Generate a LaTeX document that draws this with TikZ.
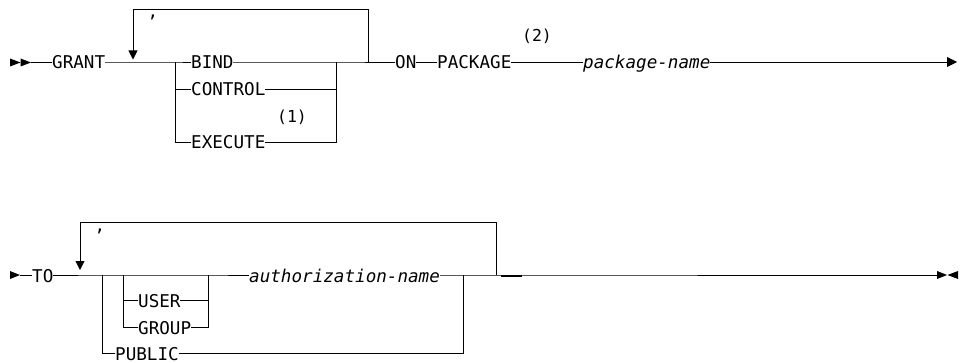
\documentclass[tikz,border=0pt]{standalone}
\usepackage{fontspec}
\newfontfamily\railfont{DejaVu Sans Mono}
\usepackage{tikz}
\usetikzlibrary{arrows.meta, calc, positioning}

\tikzset{
    rail/.style={line width=0.9pt, line cap=rect},
    kw/.style={anchor=west, inner sep=0pt, text height=14pt, text depth=0pt,
        font=\railfont\fontsize{17.6}{20}\selectfont},
    var/.style={kw, font=\railfont\itshape\fontsize{17.6}{20}\selectfont},
    sepmark/.style={kw, anchor=base},
    note/.style={anchor=center, inner sep=0pt,
        font=\railfont\fontsize{16.5}{18}\selectfont},
    loopback/.style={rail, -{Triangle[width=9pt,length=9pt]}},
    endtip/.style={fill=black}
}

\begin{document}
\begin{tikzpicture}[x=1pt, y=-1pt]
    \useasboundingbox (0,0) rectangle (965,363);

    % First line: GRANT ... ON PACKAGE package-name
    \fill[endtip] (10,58.5) -- (20.5,62.5) -- (10,66.5) -- cycle;
    \fill[endtip] (20.5,58.5) -- (31,62.5) -- (20.5,66.5) -- cycle;
    \coordinate (s1) at (31,62);

    \node[kw] (grant) at (52,62) {GRANT};
    \node[kw] (bind) at (191,62) {BIND};
    \node[kw] (control) at (191,89) {CONTROL};
    \node[kw] (execute) at (191,142) {EXECUTE};
    \node[note] (n1) at (292,117) {(1)};
    \node[kw] (on) at (395,62) {ON};
    \node[kw] (package) at (437,62) {PACKAGE};
    \node[note] (n2) at (537,36) {(2)};
    \node[var] (pkgname) at (583,62) {package-name};
    \node[sepmark] (comma1) at (153,18) {,};

    \coordinate (j1) at (175,62);
    \coordinate (j1b) at (175,142);
    \coordinate (k1) at (336,62);
    \coordinate (k1b) at (336,142);
    \coordinate (r1) at (368,62);
    \coordinate (top1) at (133,9);
    \coordinate (tip1) at (133,59.5);
    \coordinate (e1) at (957,62);

    \draw[rail] (s1) -- (grant.west);
    \draw[rail] (grant.east) -- (j1) -- (bind.west);
    \draw[rail] (j1) -- (j1b) -- (execute.west);
    \draw[rail] (j1|-control.west) -- (control.west);
    \draw[rail] (bind.east) -- (k1) -- (on.west);
    \draw[rail] (control.east) -- (k1|-control.east);
    \draw[rail] (execute.east) -- (k1b) -- (k1);
    \draw[rail] (on.east) -- (package.west);
    \draw[rail] (package.east) -- (pkgname.west);
    \draw[rail, -{Triangle[width=10pt,length=10pt]}] (pkgname.east) -- (e1);
    \draw[loopback] (r1) |- (top1) -- (tip1);

    % Second line: TO ... authorization-name
    \fill[endtip] (10,271) -- (20,275) -- (10,279) -- cycle;
    \coordinate (s2) at (20,275);

    \node[kw] (to) at (32,275) {TO};
    \node[kw] (user) at (138,300) {USER};
    \node[kw] (group) at (138,327) {GROUP};
    \node[kw] (public) at (115,353) {PUBLIC};
    \node[var] (authname) at (249,275) {authorization-name};
    \node[sepmark] (comma2) at (100,231) {,};

    \coordinate (j2) at (102,275);
    \coordinate (j2b) at (102,353);
    \coordinate (i2) at (123,275);
    \coordinate (i2b) at (123,327);
    \coordinate (m2) at (208,275);
    \coordinate (m2b) at (208,327);
    \coordinate (k2) at (463,275);
    \coordinate (k2b) at (463,353);
    \coordinate (r2) at (496,275);
    \coordinate (top2) at (80,222);
    \coordinate (tip2) at (80,270);
    \coordinate (e2) at (937,275);

    \draw[rail] (s2) -- (to.west);
    \draw[rail] (to.east) -- (j2) -- (i2) -- (m2) -- (authname.west);
    \draw[rail] (j2) -- (j2b) -- (public.west);
    \draw[rail] (i2) -- (i2b) -- (group.west);
    \draw[rail] (i2|-user.west) -- (user.west);
    \draw[rail] (user.east) -- (m2|-user.east);
    \draw[rail] (group.east) -- (m2b) -- (m2);
    \draw[rail] (authname.east) -- (k2) -- (e2);
    \draw[rail] (public.east) -- (k2b) -- (k2);
    \draw[loopback] (r2) |- (top2) -- (tip2);
    \draw[line width=2pt] (501,276) -- (522,276);

    \fill[endtip] (937,271) -- (947,275) -- (937,279) -- cycle;
    \fill[endtip] (958,271) -- (947.5,275) -- (958,279) -- cycle;
\end{tikzpicture}
\end{document}
